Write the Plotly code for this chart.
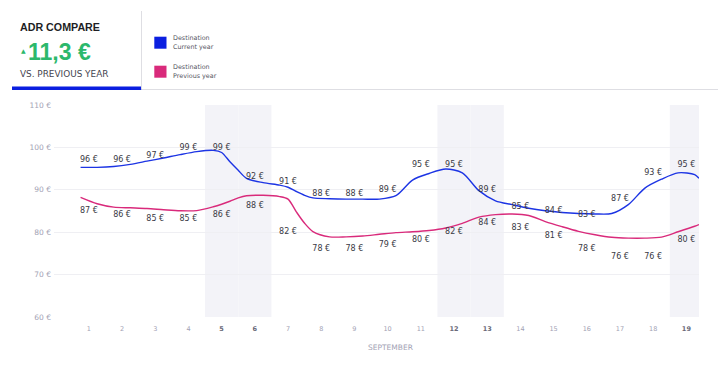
import plotly.graph_objects as go

# ---------------- data ----------------
days = list(range(1, 20))
weekend_days = [5, 6, 12, 13, 19]
month_label = "SEPTEMBER"

# daily labels (rounded values shown on the chart)
current_labels = [96, 96, 97, 99, 99, 92, 91, 88, 88, 89, 95, 95, 89, 85, 84, 83, 87, 93, 95]
previous_labels = [87, 86, 85, 85, 86, 88, 82, 78, 78, 79, 80, 82, 84, 83, 81, 78, 76, 76, 80]

# smoothed curves (day position, value)
line_days = [0.75, 1.25, 1.75, 2.25, 2.75, 3.25, 3.75, 4.25, 4.75, 5.0, 5.25, 5.5, 5.75,
             6.25, 6.75, 7.0, 7.25, 7.5, 7.75, 8.25, 8.75, 9.25, 9.75, 10.25, 10.75,
             11.25, 11.75, 12.25, 12.75, 13.25, 13.75, 14.25, 14.75, 15.25, 15.75,
             16.25, 16.75, 17.25, 17.75, 18.25, 18.75, 19.25, 19.38]
current_line = [95.3, 95.3, 95.5, 96.0, 96.75, 97.5, 98.3, 99.0, 99.3, 98.8, 96.6, 94.6, 92.7,
                91.7, 91.1, 90.6, 89.6, 88.7, 88.1, 87.9, 87.8, 87.8, 87.8, 88.6, 92.3,
                93.85, 94.9, 94.0, 89.8, 87.4, 86.5, 85.65, 85.05, 84.65, 84.4,
                84.3, 84.4, 86.5, 90.4, 92.5, 94.0, 93.6, 92.7]
previous_line = [88.2, 86.7, 85.9, 85.75, 85.6, 85.3, 85.05, 85.1, 86.0, 86.6, 87.3, 88.1, 88.6,
                 88.7, 88.4, 87.8, 84.8, 82.1, 80.15, 78.9, 78.9, 79.1, 79.5, 79.9, 80.1,
                 80.4, 81.0, 82.1, 83.55, 84.15, 84.3, 83.95, 82.5, 81.3, 80.2,
                 79.4, 78.8, 78.6, 78.6, 78.85, 80.1, 81.4, 81.8]

kpi_title = "ADR COMPARE"
kpi_value = "11,3 €"
kpi_sub = "VS. PREVIOUS YEAR"
legend_items = [("Destination", "Current year"), ("Destination", "Previous year")]

# ---------------- style ----------------
BLUE = "#1c34e4"
BLUE_SQ = "#0b1fe0"
PINK = "#d92a7b"
GREEN = "#2cb86c"
TICK = "#a2a2b4"
FONT = "DejaVu Sans"

W, H = 718, 379
PL, PR, PT, PB = 54, 19, 105, 62
pw, ph = W - PL - PR, H - PT - PB


def px(x):
    return (x - PL) / pw


def py(y):
    return (H - PB - y) / ph


fig = go.Figure()

fig.add_trace(go.Scatter(x=line_days, y=current_line, mode="lines",
                         line=dict(color=BLUE, width=1.4, shape="spline", smoothing=0.8),
                         hoverinfo="skip", name="Current year"))
fig.add_trace(go.Scatter(x=line_days, y=previous_line, mode="lines",
                         line=dict(color=PINK, width=1.4, shape="spline", smoothing=0.8),
                         hoverinfo="skip", name="Previous year"))

fig.add_trace(go.Scatter(x=days, y=current_labels, mode="text",
                         text=[f"{v} €" for v in current_labels], textposition="top center",
                         textfont=dict(family=FONT, size=8, color="#3a3a44"),
                         cliponaxis=True, hoverinfo="skip"))
fig.add_trace(go.Scatter(x=days, y=previous_labels, mode="markers+text",
                         marker=dict(size=5, opacity=0),
                         text=[f"{v} €" for v in previous_labels], textposition="bottom center",
                         textfont=dict(family=FONT, size=8, color="#3a3a44"),
                         cliponaxis=True, hoverinfo="skip"))

shapes = []
for d in weekend_days:
    shapes.append(dict(type="rect", xref="x", yref="paper", x0=d - 0.5, x1=d + 0.5, y0=0, y1=1,
                       fillcolor="#f3f3f8", line=dict(width=0), layer="below"))

# header decorations
shapes.append(dict(type="rect", xref="paper", yref="paper", x0=px(12), x1=px(141.5),
                   y0=py(90), y1=py(86.5), fillcolor=BLUE_SQ, line=dict(width=0)))
shapes.append(dict(type="line", xref="paper", yref="paper", x0=px(141.5), x1=px(141.5),
                   y0=py(11), y1=py(89), line=dict(color="#dedee3", width=1)))
shapes.append(dict(type="line", xref="paper", yref="paper", x0=px(141.5), x1=px(718),
                   y0=py(89.5), y1=py(89.5), line=dict(color="#dedee3", width=1)))
sq_colors = [BLUE_SQ, PINK]
sq_tops = [36.7, 65.7]
for c, t in zip(sq_colors, sq_tops):
    shapes.append(dict(type="rect", xref="paper", yref="paper", x0=px(154.3), x1=px(166.5),
                       y0=py(t + 12), y1=py(t), fillcolor=c, line=dict(width=0)))

annotations = []


def ann(text, x, y, size, color, family=FONT, anchor="left"):
    annotations.append(dict(text=text, x=px(x), y=py(y), xref="paper", yref="paper",
                            xanchor=anchor, yanchor="middle", showarrow=False,
                            font=dict(family=family, size=size, color=color)))


ann(f"<b>{kpi_title}</b>", 18, 26.5, 10.7, "#1e1e24", family="Liberation Sans")
ann("▲", 18.5, 50.5, 6, GREEN)
ann(f"<b>{kpi_value}</b>", 26, 52, 23, GREEN, family="Liberation Sans")
ann(kpi_sub, 18, 74, 8.9, "#45454f")
for (l1, l2), t in zip(legend_items, sq_tops):
    ann(l1, 171, t + 1.3, 6.4, "#55555f")
    ann(l2, 171, t + 10.3, 6.4, "#55555f")
ann(month_label, 390, 347.5, 7.5, TICK, anchor="center")

ticktext = [f"<b><span style='color:#6a6a78'>{d}</span></b>" if d in weekend_days else str(d)
            for d in days]

fig.update_layout(
    width=W, height=H, autosize=False,
    margin=dict(l=PL, r=PR, t=PT, b=PB, pad=0),
    paper_bgcolor="white", plot_bgcolor="white",
    showlegend=False,
    shapes=shapes, annotations=annotations,
    xaxis=dict(range=[-0.05, 19.38], tickvals=days, ticktext=ticktext, showgrid=False,
               zeroline=False, showline=False, ticks="",
               tickfont=dict(family=FONT, size=6.5, color=TICK), ticklabelstandoff=6),
    yaxis=dict(range=[60, 110], dtick=10, ticksuffix=" €", gridcolor="#efeff3", gridwidth=1,
               zeroline=False, showline=False, ticks="",
               tickfont=dict(family=FONT, size=7.5, color=TICK), ticklabelstandoff=2),
)

fig.write_html("out.html", config={"displayModeBar": False},
               post_script="document.body.style.margin='0';")
